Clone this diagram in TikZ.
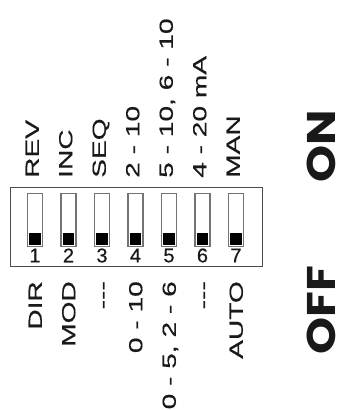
\documentclass[tikz,border=0pt]{standalone}
\usepackage{fontspec}
\setmainfont{Liberation Sans}
\newfontfamily\lblfont[FakeBold=0.4]{Liberation Sans}
\newfontfamily\onofffont{Poppins}
\usepackage{graphicx}
\newcommand\swtext[1]{\scalebox{1.48}[1]{\lblfont\fontsize{19}{19}\selectfont #1}}
\newcommand\bigtext[1]{\scalebox{1.18}[1]{\onofffont\bfseries\fontsize{40}{40}\selectfont #1}}
\begin{document}
\begin{tikzpicture}[x=1pt,y=-1pt,
  toplbl/.style={rotate=90, inner sep=0pt, anchor=base west, text=black!90},
  botlbl/.style={rotate=90, inner sep=0pt, anchor=base east, text=black!90},
  swbox/.style={draw=black!55, line width=1.2pt, fill=white, inner sep=0pt,
                minimum width=15pt, minimum height=53pt, anchor=north},
  knob/.style={fill=black},
  num/.style={inner sep=0pt, text=black!90, font=\lblfont\fontsize{20}{20}\selectfont},
  big/.style={rotate=90, inner sep=0pt, anchor=base, text depth=0pt, text=black!90}]
\useasboundingbox (0,0) rectangle (345,410);
\node (box) [draw=black!70, line width=0.8pt, inner sep=0pt, anchor=north west,
  minimum width=252pt, minimum height=79pt] at (10,187) {};
\foreach \i in {1,...,7}{
  \pgfmathsetmacro\cx{35+33.5*(\i-1)}
  \node[swbox] (s\i) at (\cx,193) {};
  \fill[knob] (\cx-5.6,232.8) rectangle (\cx+5.6,245.3);
  \node[num] (n\i) at (\cx,255.5) {\i};
}
\foreach \i/\t in {1/REV,2/INC,3/SEQ,4/2 - 10,5/{5 - 10, 6 - 10},6/4 - 20 mA,7/MAN}{
  \pgfmathsetmacro\cx{35+33.5*(\i-1)}
  \node[toplbl] (t\i) at (\cx+3.8,178) {\swtext{\t}};
}
\foreach \i/\t in {1/DIR,2/MOD,3/-{}-{}-,4/0 - 10,5/{0 - 5, 2 - 6},6/-{}-{}-,7/AUTO}{
  \pgfmathsetmacro\cx{35+33.5*(\i-1)}
  \node[botlbl] (b\i) at (\cx+6.8,281) {\swtext{\t}};
}
\node[big] (on) at (335.5,146) {\bigtext{ON}};
\node[big] (off) at (335.5,310) {\bigtext{OFF}};
\end{tikzpicture}
\end{document}
